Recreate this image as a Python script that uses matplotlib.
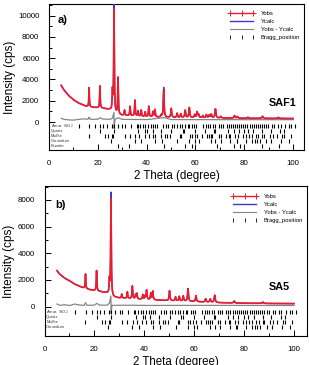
import numpy as np
import matplotlib
matplotlib.use("Agg")
import matplotlib.pyplot as plt
from matplotlib.lines import Line2D
from matplotlib.ticker import FixedLocator

plt.rcParams['font.family'] = ['Liberation Sans', 'DejaVu Sans']

# ---------------- data: SAF1 ----------------
saf1_bg_x = [5, 6, 8, 10, 12, 15, 18, 22, 25, 26.3, 27.5, 30, 35, 40, 50, 60, 70, 80, 90, 100]
saf1_bg_y = [3450, 3050, 2500, 2100, 1800, 1500, 1380, 1300, 1150, 1000, 750, 620, 550, 480, 430, 400, 380, 350, 340, 330]
saf1_peak_pos = [16.43, 20.86, 26.0, 26.64, 28.28, 30.96, 33.2, 35.2, 36.5, 37.8, 39.4, 40.9, 42.6, 43.4,
                 46.0, 47.0, 50.1, 52.5, 54.0, 55.8, 57.5, 59.7, 60.7, 61.3, 63.0, 64.5, 65.6, 66.5,
                 68.2, 70.4, 76.0, 77.2, 81.5, 87.5, 94.0]
saf1_obs_h = [1750, 2070, 1800, 9600, 3450, 500, 900, 1500, 500, 600, 450, 1000, 500, 700,
              200, 2550, 850, 400, 350, 700, 950, 300, 550, 300, 200, 300, 250, 350,
              850, 150, 250, 150, 100, 200, 100]
saf1_calc_h = [1800, 2050, 1750, 10300, 3400, 480, 880, 1480, 480, 580, 430, 980, 480, 680,
               200, 2800, 830, 380, 330, 680, 930, 290, 530, 290, 190, 290, 240, 330,
               830, 150, 240, 150, 100, 190, 100]
saf1_diff_x = [5, 6, 8, 10, 12, 14, 16, 16.4, 17, 20, 20.9, 22, 25, 26.0, 26.6, 26.7, 27, 28.3, 30,
               35, 40, 47, 50, 60, 70, 80, 90, 100]
saf1_diff_y = [350, 250, 200, 180, 250, 300, 250, 450, 250, 260, 400, 280, 250, 350, 900, -600, 250, 400, 250,
               250, 220, 420, 230, 220, 230, 220, 220, 220]

# ---------------- data: SA5 ----------------
sa5_bg_x = [5, 6, 8, 10, 12, 15, 18, 22, 25, 26.3, 27.5, 30, 35, 40, 50, 60, 70, 80, 90, 100]
sa5_bg_y = [2700, 2450, 2150, 1950, 1700, 1450, 1280, 1150, 1020, 900, 720, 650, 600, 540, 450, 380, 300, 260, 240, 230]
sa5_peak_pos = [16.43, 20.86, 26.0, 26.64, 30.96, 33.2, 35.2, 36.5, 37.0, 39.4, 40.3, 40.9, 42.6, 43.4,
                50.1, 52.5, 54.0, 55.6, 57.5, 60.7, 64.6, 66.4, 68.2, 76.0, 87.5]
sa5_obs_h = [1050, 1520, 1000, 7200, 300, 500, 950, 300, 400, 350, 250, 700, 500, 650,
             750, 300, 350, 400, 950, 450, 250, 250, 550, 150, 100]
sa5_calc_h = [1100, 1500, 950, 7700, 290, 480, 930, 290, 380, 330, 240, 680, 480, 630,
              730, 290, 330, 380, 930, 430, 240, 240, 530, 150, 100]
sa5_diff_x = [5, 6, 8, 10, 12, 14, 16, 16.4, 17, 20, 20.9, 22, 25, 26.0, 26.6, 26.7, 27, 30,
              35, 40, 50, 60, 70, 80, 90, 100]
sa5_diff_y = [200, 100, 150, 80, 200, 120, 100, 300, 100, 110, 250, 120, 100, 250, 800, -500, 100, 100,
              110, 90, 100, 90, 100, 90, 90, 90]

# ---------------- Bragg positions ----------------
amor_pos = [12.4, 16.5, 19.0, 20.9, 22.3, 23.7, 26.0, 26.6, 28.4, 30.1, 31.2, 33.5, 35.9, 36.4, 37.3, 38.5,
            39.4, 40.5, 41.7, 42.6, 43.3, 44.2, 46.6, 47.9, 48.7, 50.3, 51.2, 52.4, 53.6, 54.5, 55.6,
            56.8, 57.3, 58.6, 59.6, 60.2, 63.0, 64.2, 65.1, 65.9, 67.2, 68.0, 69.6, 70.4, 71.3, 72.8, 73.6,
            74.5, 75.4, 76.2, 77.0, 77.9, 78.8, 79.6, 80.5, 81.3, 82.2, 83.0, 83.9, 84.7, 85.6, 86.4,
            87.3, 88.1, 89.0, 89.8, 91.5, 92.4, 94.0, 94.9, 96.6, 98.3, 99.1, 100.8]
quartz_pos = [20.86, 26.64, 36.54, 39.47, 40.29, 42.45, 45.79, 50.14, 54.87, 55.33, 59.96, 64.03,
              67.74, 68.14, 73.47, 75.66, 77.67, 79.88, 81.49, 83.8, 87.4, 90.8, 94.6, 96.2]
mullite_pos = [16.43, 23.0, 24.3, 25.97, 26.27, 30.96, 33.23, 35.28, 36.99, 39.27, 40.87, 42.6, 43.4,
               46.0, 47.5, 48.2, 49.5, 53.5, 54.1, 57.6, 58.5, 59.7, 60.7, 62.6, 64.6, 65.5, 66.3,
               67.0, 69.6, 70.4, 72.4, 73.9, 74.3, 76.3, 77.4, 79.4, 80.9, 81.8, 83.2, 84.8, 85.8,
               87.4, 88.1, 90.4, 91.6, 93.3, 95.4, 96.5, 99.0]
corundum_pos = [25.58, 35.15, 37.78, 43.36, 46.18, 52.55, 57.5, 59.74, 61.3, 66.52, 68.21, 70.42,
                74.3, 76.87, 77.23, 80.7, 83.2, 84.35, 85.14, 86.36, 88.99, 91.18, 95.24, 98.4]
fluorite_pos = [28.27, 32.76, 47.0, 55.76, 58.5, 68.68, 75.84, 78.1, 87.4, 94.2]

phase_names_a = ['Amor. SiO$_2$', 'Quartz', 'Mullite', 'Corundum', 'Fluorite']
phase_rows_a = [-400, -870, -1330, -1800, -2260]
phase_names_b = ['Amor. SiO$_2$', 'Quartz', 'Mullite', 'Corundum']
phase_rows_b = [-400, -760, -1130, -1500]

legend_labels = ['Yobs', 'Ycalc', 'Yobs - Ycalc', 'Bragg_position']

RED = '#ee1c2a'
BLUE = '#3a3ad0'
GRAY = '#858585'


def profile(x, bg_x, bg_y, pos, h):
    y = np.interp(x, bg_x, bg_y)
    for p, a in zip(pos, h):
        w = 0.09 + 0.002 * p
        y = y + a / (1 + ((x - p) / w) ** 2)
    return y


def panel(ax, bg_x, bg_y, pos, obs_h, calc_h, dx, dy, phases, rows, names,
          ylim, xlim, yticks, tag, tag_xy, name, name_xy):
    x = np.arange(5, 100.001, 0.01)
    ycalc = profile(x, bg_x, bg_y, pos, calc_h)
    yobs = profile(x, bg_x, bg_y, pos, obs_h)
    yd = np.interp(x, dx, dy)
    ax.plot(x, yd, color=GRAY, lw=0.9, zorder=2)
    ax.plot(x, ycalc, color=BLUE, lw=1.0, zorder=3)
    ax.plot(x, yobs, color=RED, lw=1.2, zorder=4)
    for ph, r in zip(phases, rows):
        ax.plot(ph, [r] * len(ph), ls='none', marker='|', ms=3.0, mew=0.8, color='black', zorder=3)
    for nm, r in zip(names, rows):
        ax.text(0.7, r, nm, fontsize=3.0, color='#333333', va='center', ha='left')
    ax.set_xlim(*xlim)
    ax.set_ylim(*ylim)
    ax.xaxis.set_major_locator(FixedLocator([0, 20, 40, 60, 80, 100]))
    ax.xaxis.set_minor_locator(FixedLocator([10, 30, 50, 70, 90]))
    ax.yaxis.set_major_locator(FixedLocator(yticks))
    ax.yaxis.set_minor_locator(FixedLocator([v + 1000 for v in yticks]))
    ax.tick_params(which='both', direction='in', top=False, right=False, labelsize=5.7, width=0.7)
    ax.tick_params(axis='x', which='major', length=4, pad=7)
    ax.tick_params(axis='y', which='major', length=4, pad=7)
    ax.tick_params(which='minor', length=2)
    for s in ax.spines.values():
        s.set_linewidth(0.8)
    ax.set_xlabel('2 Theta (degree)', fontsize=8.3, labelpad=2)
    ax.set_ylabel('Intensity (cps)', fontsize=8.5, labelpad=1.5)
    ax.text(tag_xy[0], tag_xy[1], tag, fontsize=8, fontweight='bold', va='center', ha='left')
    ax.text(name_xy[0], name_xy[1], name, fontsize=7.8, fontweight='bold', va='center', ha='left')
    handles = [
        Line2D([], [], color=RED, lw=1.0, marker='+', ms=4, mew=0.7),
        Line2D([], [], color=BLUE, lw=1.0),
        Line2D([], [], color=GRAY, lw=0.8),
        Line2D([], [], color='black', ls='none', marker='|', ms=2.5, mew=0.6),
    ]
    ax.legend(handles, legend_labels, loc='upper right', bbox_to_anchor=(0.985, 0.95),
              frameon=False, fontsize=4.2, numpoints=3, handlelength=4.5,
              handletextpad=1.0, labelspacing=0.5, borderpad=0, borderaxespad=0)


fig = plt.figure(figsize=(3.09, 3.65), dpi=100)
ax1 = fig.add_axes([49 / 309, 1 - 150 / 365, 255 / 309, 146 / 365])
ax2 = fig.add_axes([44.5 / 309, 1 - 336 / 365, 262.5 / 309, 150 / 365])

panel(ax1, saf1_bg_x, saf1_bg_y, saf1_peak_pos, saf1_obs_h, saf1_calc_h, saf1_diff_x, saf1_diff_y,
      [amor_pos, quartz_pos, mullite_pos, corundum_pos, fluorite_pos], phase_rows_a, phase_names_a,
      (-2630, 11100), (0, 104.5), [0, 2000, 4000, 6000, 8000, 10000], 'a)', (3.7, 9600), 'SAF1', (90, 1790))
panel(ax2, sa5_bg_x, sa5_bg_y, sa5_peak_pos, sa5_obs_h, sa5_calc_h, sa5_diff_x, sa5_diff_y,
      [amor_pos, quartz_pos, mullite_pos, corundum_pos], phase_rows_b, phase_names_b,
      (-2200, 9050), (0, 105.2), [0, 2000, 4000, 6000, 8000], 'b)', (4.2, 7630), 'SA5', (90, 1480))

fig.savefig('out.png', dpi=100)
